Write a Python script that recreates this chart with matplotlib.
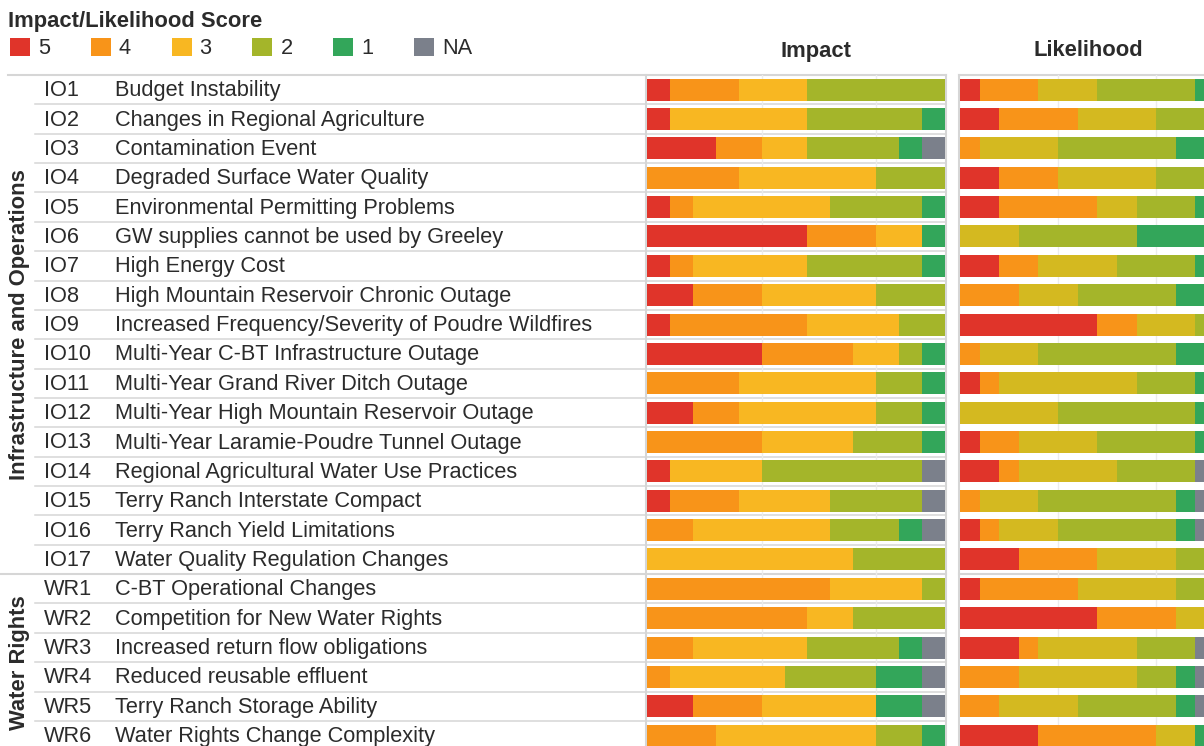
import numpy as np
import matplotlib.pyplot as plt
from matplotlib.patches import Rectangle

plt.rcParams['font.family'] = ['Liberation Sans', 'DejaVu Sans']

# ---- data (counts of 13 responses per risk) ----
codes = ["IO1", "IO2", "IO3", "IO4", "IO5", "IO6", "IO7", "IO8", "IO9", "IO10",
         "IO11", "IO12", "IO13", "IO14", "IO15", "IO16", "IO17",
         "WR1", "WR2", "WR3", "WR4", "WR5", "WR6"]
names = ["Budget Instability",
         "Changes in Regional Agriculture",
         "Contamination Event",
         "Degraded Surface Water Quality",
         "Environmental Permitting Problems",
         "GW supplies cannot be used by Greeley",
         "High Energy Cost",
         "High Mountain Reservoir Chronic Outage",
         "Increased Frequency/Severity of Poudre Wildfires",
         "Multi-Year C-BT Infrastructure Outage",
         "Multi-Year Grand River Ditch Outage",
         "Multi-Year High Mountain Reservoir Outage",
         "Multi-Year Laramie-Poudre Tunnel Outage",
         "Regional Agricultural Water Use Practices",
         "Terry Ranch Interstate Compact",
         "Terry Ranch Yield Limitations",
         "Water Quality Regulation Changes",
         "C-BT Operational Changes",
         "Competition for New Water Rights",
         "Increased return flow obligations",
         "Reduced reusable effluent",
         "Terry Ranch Storage Ability",
         "Water Rights Change Complexity"]
groups = ["Infrastructure and Operations", "Water Rights"]
group_sizes = [17, 6]

scores = ["5", "4", "3", "2", "1", "NA"]

impact_5 = [1, 1, 3, 0, 1, 7, 1, 2, 1, 5, 0, 2, 0, 1, 1, 0, 0, 0, 0, 0, 0, 2, 0]
impact_4 = [3, 0, 2, 4, 1, 3, 1, 3, 6, 4, 4, 2, 5, 0, 3, 2, 0, 8, 7, 2, 1, 3, 3]
impact_3 = [3, 6, 2, 6, 6, 2, 5, 5, 4, 2, 6, 6, 4, 4, 4, 6, 9, 4, 2, 5, 5, 5, 7]
impact_2 = [6, 5, 4, 3, 4, 0, 5, 3, 2, 1, 2, 2, 3, 7, 4, 3, 4, 1, 4, 4, 4, 0, 2]
impact_1 = [0, 1, 1, 0, 1, 1, 1, 0, 0, 1, 1, 1, 1, 0, 0, 1, 0, 0, 0, 1, 2, 2, 1]
impact_na = [0, 0, 1, 0, 0, 0, 0, 0, 0, 0, 0, 0, 0, 1, 1, 1, 0, 0, 0, 1, 1, 1, 0]

like_5 = [1, 2, 0, 2, 2, 0, 2, 0, 7, 0, 1, 0, 1, 2, 0, 1, 3, 1, 7, 3, 0, 0, 4]
like_4 = [3, 4, 1, 3, 5, 0, 2, 3, 2, 1, 1, 0, 2, 1, 1, 1, 4, 5, 4, 1, 3, 2, 6]
like_3 = [3, 4, 4, 5, 2, 3, 4, 3, 3, 3, 7, 5, 4, 5, 3, 3, 4, 5, 2, 5, 6, 4, 2]
like_2 = [5, 3, 6, 3, 3, 6, 4, 5, 1, 7, 3, 7, 5, 4, 7, 6, 2, 2, 0, 3, 2, 5, 0]
like_1 = [1, 0, 2, 0, 1, 4, 1, 2, 0, 2, 1, 1, 1, 0, 1, 1, 0, 0, 0, 0, 1, 1, 1]
like_na = [0, 0, 0, 0, 0, 0, 0, 0, 0, 0, 0, 0, 0, 1, 1, 1, 0, 0, 0, 1, 1, 1, 0]

impact_colors = ['#e0342a', '#f89419', '#f8b722', '#a4b52a', '#33a65a', '#7b808b']
like_colors = ['#e0342a', '#f89419', '#d4b920', '#a4b52a', '#33a65a', '#7b808b']

# ---- layout (pixels) ----
W, H = 1204, 746
top = 75
pitch = 29.36
n = len(codes)
bottom = top + n * pitch
total = 13
line_c = '#d6d6d6'
txt_c = '#2b2b2b'
fs = 15.7
fs_b = 15.8

fig = plt.figure(figsize=(W / 100, H / 100), dpi=100)

# overlay axes in pixel coords for the table part
ov = fig.add_axes([0, 0, 1, 1])
ov.set_xlim(0, W)
ov.set_ylim(H, 0)
ov.axis('off')


def row_y(i):
    return top + (i + 0.5) * pitch + 1


# title + legend
ov.text(8, 21, "Impact/Likelihood Score", fontsize=fs_b, fontweight='bold',
        color=txt_c, va='center', ha='left')
for k, (s, c) in enumerate(zip(scores, impact_colors)):
    x0 = 10 + k * 80.8
    ov.add_patch(Rectangle((x0, 38), 20, 18, facecolor=c, edgecolor='none'))
    ov.text(x0 + 28, 48, s, fontsize=fs, color=txt_c, va='center', ha='left')

# headers
ov.text(816, 51, "Impact", fontsize=fs_b, fontweight='bold', color=txt_c,
        ha='center', va='center')
ov.text(1088, 51, "Likelihood", fontsize=fs_b, fontweight='bold', color=txt_c,
        ha='center', va='center')

# row lines and labels
group_ends = np.cumsum(group_sizes)
ov.plot([8, 946], [top, top], color=line_c, lw=1.5)
ov.plot([959, W], [top, top], color=line_c, lw=1.5)
for i in range(1, n):
    y = top + i * pitch
    if i in group_ends:
        ov.plot([0, 946], [y, y], color=line_c, lw=1.5)
        ov.plot([959, W], [y, y], color=line_c, lw=1.5)
    else:
        ov.plot([35, 946], [y, y], color=line_c, lw=1.1)
for i in range(n):
    ov.text(44, row_y(i), codes[i], fontsize=fs, color=txt_c, va='center', ha='left')
    ov.text(115, row_y(i), names[i], fontsize=fs, color=txt_c, va='center', ha='left')

start = 0
for g, size in zip(groups, group_sizes):
    yc = top + (start + size / 2) * pitch
    ov.text(20, yc, g, fontsize=fs_b, fontweight='bold', color=txt_c,
            rotation=90, ha='center', va='center')
    start += size

# panel borders
ov.plot([646, 646], [top, H], color=line_c, lw=1.5)
ov.plot([946, 946], [top, H], color=line_c, lw=1.5)
ov.plot([959, 959], [top, H], color=line_c, lw=1.5)


def draw_panel(x_px, w_px, series, colors):
    ax = fig.add_axes([x_px / W, (H - bottom) / H, w_px / W, (bottom - top) / H])
    ax.set_xlim(0, total)
    ax.set_ylim(n, 0)
    ax.patch.set_alpha(0)
    for gx in [5, 10]:
        ax.axvline(gx, color='#ececec', lw=1, zorder=0)
    ypos = np.arange(n) + 0.5
    left = np.zeros(n)
    for vals, c in zip(series, colors):
        vals = np.array(vals, dtype=float)
        ax.barh(ypos, vals, left=left, height=0.75, color=c, edgecolor='none', zorder=2)
        left += vals
    ax.set_xticks([])
    ax.set_yticks([])
    for sp in ax.spines.values():
        sp.set_visible(False)
    return ax


draw_panel(647, 298, [impact_5, impact_4, impact_3, impact_2, impact_1, impact_na],
           impact_colors)
draw_panel(960, 255, [like_5, like_4, like_3, like_2, like_1, like_na], like_colors)

fig.savefig('out.png', dpi=100)
